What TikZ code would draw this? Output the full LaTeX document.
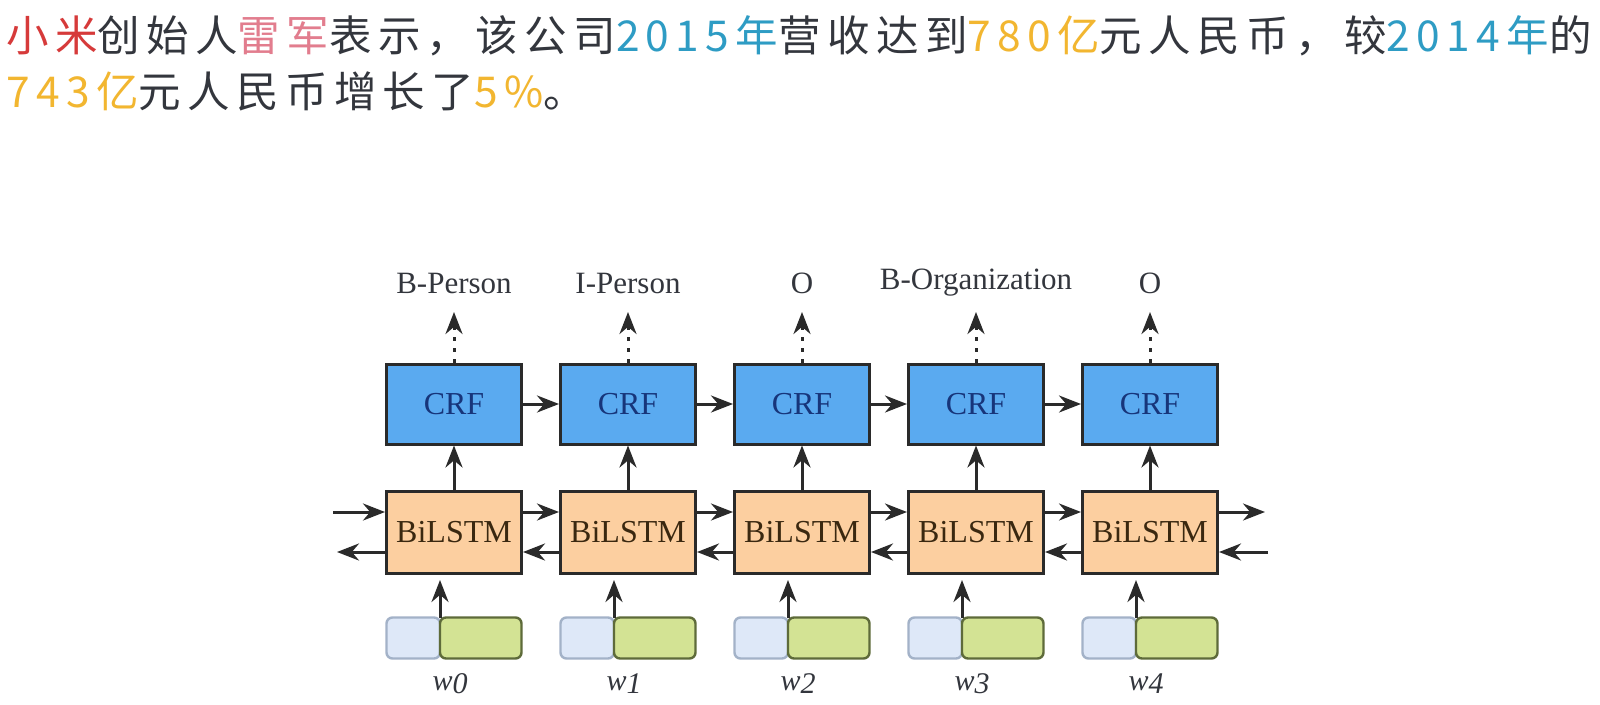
\documentclass[tikz,border=0pt]{standalone}
\usepackage{fontspec}
\setmainfont{Liberation Serif}
\newfontfamily\cjk[LetterSpace=15]{Noto Sans CJK SC}
\usetikzlibrary{arrows.meta}
\definecolor{xred}{HTML}{D63A3A}
\definecolor{xpink}{HTML}{E27D8E}
\definecolor{xteal}{HTML}{2E9CC4}
\definecolor{xgold}{HTML}{F2B630}
\definecolor{xgray}{HTML}{33363D}
\definecolor{crfblue}{HTML}{5AAAF0}
\definecolor{crftext}{HTML}{17357A}
\definecolor{lstmfill}{HTML}{FCCFA0}
\definecolor{lstmtext}{HTML}{3A2810}
\definecolor{boxline}{HTML}{2A2A2A}
\definecolor{embblue}{HTML}{DEE8F8}
\definecolor{embblueline}{HTML}{A3B2C8}
\definecolor{embgreen}{HTML}{D3E394}
\definecolor{embgreenline}{HTML}{5E6B3A}
\begin{document}
\begin{tikzpicture}[x=1pt,y=-1pt,
  crfbox/.style={draw=boxline, fill=crfblue, line width=3pt, minimum width=135pt, minimum height=80pt, inner sep=0pt, text=crftext, font=\fontsize{32}{36}\selectfont},
  lstmbox/.style={draw=boxline, fill=lstmfill, line width=3pt, minimum width=135pt, minimum height=82pt, inner sep=0pt, text=lstmtext, font=\fontsize{32}{36}\selectfont},
  embleft/.style={draw=embblueline, fill=embblue, line width=2.4pt, rounded corners=6pt, minimum width=53.5pt, minimum height=41pt, inner sep=0pt},
  embright/.style={draw=embgreenline, fill=embgreen, line width=2.4pt, rounded corners=6pt, minimum width=81.5pt, minimum height=41pt, inner sep=0pt},
  tagtext/.style={text=xgray, inner sep=0pt, font=\fontsize{31}{36}\selectfont},
  wordtext/.style={text=xgray, inner sep=0pt, font=\fontsize{30}{34}\selectfont\itshape},
  arr/.style={-{Stealth[length=22pt,width=17pt]}, line width=3pt, draw=boxline},
  dotarr/.style={arr, dash pattern=on 4pt off 7pt},
  cjktext/.style={anchor=west, inner sep=0pt, text=xgray, font=\cjk\fontsize{42.5}{50}\selectfont}
]
\useasboundingbox[fill=white] (0,0) rectangle (1600,704);

\node[cjktext] (line1) at (6,36) {\textcolor{xred}{小米}创始人\textcolor{xpink}{雷军}表示，该公司\textcolor{xteal}{2015年}营收达到\textcolor{xgold}{780亿}元人民币，较\textcolor{xteal}{2014年}的};
\node[cjktext] (line2) at (6,91) {\textcolor{xgold}{743亿}元人民币增长了\textcolor{xgold}{5\%}。};

\foreach \i/\lab in {0/B-Person,1/I-Person,2/O,3/B-Organization,4/O}{
  \pgfmathsetmacro{\cx}{454+174*\i}
  \node[crfbox] (crf\i) at (\cx,404) {CRF};
  \node[lstmbox] (lstm\i) at (\cx,532) {BiLSTM};
  \node[embleft] (ea\i) at (\cx-40.75,638) {};
  \node[embright] (eb\i) at (\cx+26.75,638) {};
  \node[tagtext] (tag\i) at (\cx,283) {\lab};
  \node[wordtext] (w\i) at (\cx-4,684) {w\raisebox{-3pt}{\i}};
  \coordinate (tip\i) at (\cx,312);
  \coordinate (es\i) at (\cx-14,618);
  \coordinate (in\i) at (\cx-14,580);
  \draw[dotarr] (crf\i.north) -- (tip\i);
  \draw[arr] (lstm\i.north) -- (crf\i.south);
  \draw[arr] (es\i) -- (in\i);
}
\foreach \i/\j in {0/1,1/2,2/3,3/4}{
  \draw[arr] (crf\i.east) -- (crf\j.west);
  \draw[arr] ([yshift=20pt]lstm\i.east) -- ([yshift=20pt]lstm\j.west);
  \draw[arr] ([yshift=-20pt]lstm\j.west) -- ([yshift=-20pt]lstm\i.east);
}
\coordinate (lin) at (333,512);
\coordinate (lout) at (337,552);
\coordinate (rout) at (1265,512);
\coordinate (rin) at (1268,552);
\draw[arr] (lin) -- ([yshift=20pt]lstm0.west);
\draw[arr] ([yshift=-20pt]lstm0.west) -- (lout);
\draw[arr] ([yshift=20pt]lstm4.east) -- (rout);
\draw[arr] (rin) -- ([yshift=-20pt]lstm4.east);
\end{tikzpicture}
\end{document}
